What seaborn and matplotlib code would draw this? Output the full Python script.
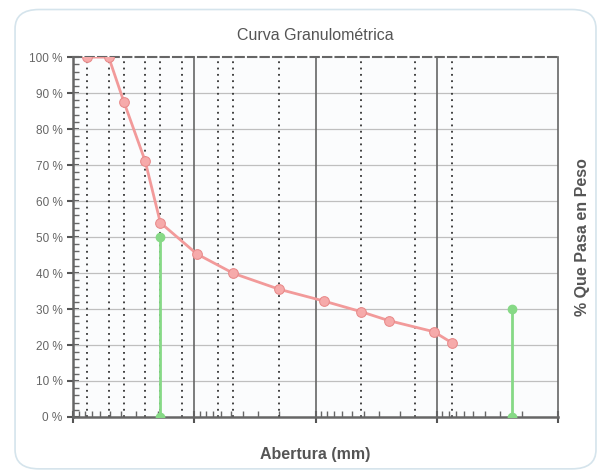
import numpy as np
import pandas as pd
import seaborn as sns
import matplotlib.pyplot as plt
from matplotlib.patches import FancyBboxPatch
from matplotlib.ticker import LogLocator, MultipleLocator, NullFormatter, FuncFormatter

# Sieve openings (mm) and % passing
abertura = [76.2, 50.8, 38.1, 25.4, 19.05, 9.525, 4.75, 2.0, 0.85, 0.425, 0.25, 0.106, 0.075]
pasa = [100.0, 100.0, 87.6, 71.1, 54.0, 45.3, 39.9, 35.5, 32.2, 29.3, 26.8, 23.7, 20.6]

# Dotted guide lines at the sieve sizes
tamices = [76.2, 50.8, 38.1, 25.4, 19.05, 12.7, 6.35, 4.75, 2.0, 0.425, 0.15, 0.075]

# Green vertical markers
marca_x = [19.05, 0.024]
marca_y = [50.0, 30.0]

df = pd.DataFrame({'Abertura': abertura, 'Pasa': pasa})

sns.set_style("white")
plt.rcParams['font.family'] = ['Liberation Sans', 'DejaVu Sans']

fig = plt.figure(figsize=(6.02, 4.76), dpi=100)
fig.patches.append(FancyBboxPatch((0.025, 0.015), 0.965, 0.965, boxstyle="round,pad=0,rounding_size=0.04",
                                  transform=fig.transFigure, fill=False, edgecolor='#d5e4ec', linewidth=1.2))
ax = fig.add_axes([0.1213, 0.124, 0.8057, 0.756])
ax.set_facecolor('#fbfcfd')

ax.set_xscale('log')
ax.set_xlim(100, 0.01)
ax.set_ylim(0, 100)

# grid
for y in range(10, 100, 10):
    ax.axhline(y, color='#bfbfbf', lw=0.9, zorder=1)
for x in tamices:
    ax.axvline(x, color='#333333', lw=1.3, ls=(0, (1, 2.5)), zorder=1)
for x in [10, 1, 0.1]:
    ax.axvline(x, color='#666666', lw=1.2, zorder=1)

sns.lineplot(data=df, x='Abertura', y='Pasa', ax=ax, color='#f29a9a', lw=2, marker='o',
             markersize=7, markerfacecolor='#f6aaaa', markeredgecolor='#e88a8a', sort=False, zorder=3)

for x, y in zip(marca_x, marca_y):
    ax.plot([x, x], [0, y], color='#86d986', lw=2, marker='o', markersize=6, zorder=4)

# spines
for s in ['left', 'bottom', 'right']:
    ax.spines[s].set_color('#666666')
ax.spines['left'].set_linewidth(1.8)
ax.spines['bottom'].set_linewidth(1.8)
ax.spines['right'].set_linewidth(1.2)
ax.spines['top'].set_color('#666666')
ax.spines['top'].set_linewidth(1.5)
ax.spines['top'].set_linestyle((0, (4, 2)))

ax.yaxis.set_major_locator(MultipleLocator(10))
ax.yaxis.set_minor_locator(MultipleLocator(2))
ax.yaxis.set_major_formatter(FuncFormatter(lambda v, p: f'{int(v)} %'))
ax.xaxis.set_major_locator(LogLocator(base=10))
ax.xaxis.set_minor_locator(LogLocator(base=10, subs=np.arange(2, 10)))
ax.xaxis.set_major_formatter(NullFormatter())
ax.xaxis.set_minor_formatter(NullFormatter())

ax.tick_params(axis='both', which='both', bottom=True, left=True, top=False, right=False)
ax.tick_params(axis='both', which='major', direction='inout', length=8, width=1.5, color='#555555',
               labelsize=8.5, labelcolor='#666666')
ax.tick_params(axis='both', which='minor', direction='in', length=4, width=1.0, color='#666666')

ax.set_title('Curva Granulométrica', fontsize=11.5, color='#555555', pad=12)
ax.set_xlabel('Abertura (mm)', fontsize=11.5, color='#555555', fontweight='bold', labelpad=14)
ax.yaxis.set_label_position('right')
ax.set_ylabel('% Que Pasa en Peso', fontsize=11.5, color='#555555', fontweight='bold', labelpad=12)

fig.savefig('out.png', dpi=100)
